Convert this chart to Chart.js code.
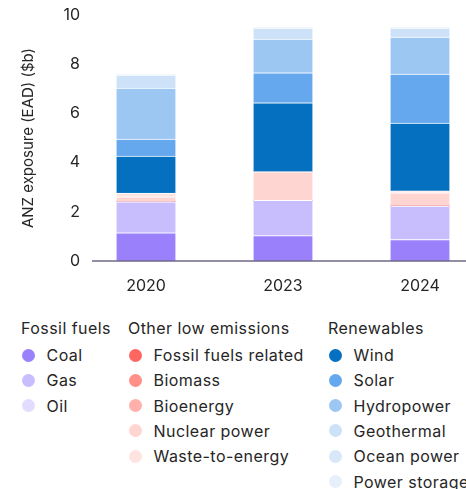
<!DOCTYPE html>
<html><head><meta charset="utf-8">
<script src="https://cdn.jsdelivr.net/npm/chart.js@4/dist/chart.umd.min.js"></script>
<style>
html,body{margin:0;padding:0;background:#fff;width:466px;height:489px;overflow:hidden;font-family:Inter,"Noto Sans",sans-serif;color:#262626}
#wrap{position:absolute;left:0;top:0;width:466px;height:300px}
.hdr{position:absolute;font-size:16px;line-height:18px;letter-spacing:0.45px;white-space:nowrap}
.item{position:absolute;font-size:16px;line-height:18px;letter-spacing:0.45px;white-space:nowrap}
.dot{position:absolute;width:13px;height:13px;border-radius:50%}
</style></head>
<body>
<div id="wrap"><canvas id="c" width="466" height="300"></canvas></div>
<div id="legend"></div>
<script>
const years = ['2020', '2023', '2024'];
const yTicks = [0, 2, 4, 6, 8, 10];
const axisTitle = 'ANZ exposure (EAD) ($b)';

// Fossil fuels
const coal = [1.15, 1.03, 0.87];
const gas = [1.26, 1.44, 1.36];
const oil = [0, 0, 0];
// Other low emissions
const fossilRelated = [0, 0, 0];
const biomass = [0, 0, 0];
const bioenergy = [0, 0, 0];
const nuclear = [0.20, 1.15, 0.54];
const wasteToEnergy = [0.15, 0, 0.08];
// Renewables
const wind = [1.51, 2.81, 2.76];
const solar = [0.69, 1.22, 1.99];
const hydro = [2.07, 1.37, 1.50];
const geothermal = [0.53, 0.45, 0.37];
const ocean = [0, 0, 0];
const storage = [0, 0, 0];

const groups = [
  {name: 'Fossil fuels', series: [
    ['Coal', coal, '#9b80fc'], ['Gas', gas, '#c8befe'], ['Oil', oil, '#e2dcfe']]},
  {name: 'Other low emissions', series: [
    ['Fossil fuels related', fossilRelated, '#fe6661'], ['Biomass', biomass, '#ff8f88'],
    ['Bioenergy', bioenergy, '#ffb0aa'], ['Nuclear power', nuclear, '#ffd5d2'],
    ['Waste-to-energy', wasteToEnergy, '#ffe3e1']]},
  {name: 'Renewables', series: [
    ['Wind', wind, '#0570bf'], ['Solar', solar, '#66a8ee'], ['Hydropower', hydro, '#9cc7f3'],
    ['Geothermal', geothermal, '#cde2f8'], ['Ocean power', ocean, '#d9e8f9'],
    ['Power storage', storage, '#e6f0fb']]}
];

const datasets = [];
groups.forEach(g => g.series.forEach(([label, data, color]) => {
  datasets.push({label, data, backgroundColor: color, borderColor: '#ffffff',
    borderWidth: {top: 1, left: 0, right: 0, bottom: 0}, borderSkipped: false,
    barThickness: 59, clip: false});
}));

const baseLine = {
  id: 'baseLine',
  afterDatasetsDraw(chart) {
    const y = chart.scales.y.getPixelForValue(0);
    const ctx = chart.ctx;
    ctx.save();
    ctx.strokeStyle = '#6f6889';
    ctx.lineWidth = 1.6;
    ctx.beginPath();
    ctx.moveTo(92, y);
    ctx.lineTo(chart.width, y);
    ctx.stroke();
    ctx.restore();
  }
};

new Chart(document.getElementById('c'), {
  type: 'bar',
  data: {labels: years, datasets},
  plugins: [baseLine],
  options: {
    responsive: false, animation: false,
    layout: {padding: {left: 0, right: 46, top: 15, bottom: 0}},
    plugins: {legend: {display: false}, tooltip: {enabled: false}},
    scales: {
      x: {stacked: true, offset: false,
        grid: {display: false, drawTicks: false}, border: {display: false},
        ticks: {padding: 16, color: '#262626', font: {family: 'Inter', size: 16}},
        afterFit(s) { s.height = 39; s.paddingLeft = 0; s.paddingRight = 0; }},
      y: {stacked: true, min: 0, max: 10,
        afterBuildTicks(s) { s.ticks = yTicks.map(v => ({value: v})); },
        grid: {display: false, drawTicks: false}, border: {display: false},
        ticks: {padding: 66, color: '#262626', font: {family: 'Inter', size: 16}},
        title: {display: true, text: axisTitle, color: '#262626',
          font: {family: 'Inter', size: 15}, padding: {top: 19, bottom: 0}},
        afterFit(s) { s.width = 146; s.paddingTop = 0; s.paddingBottom = 0; }}
    }
  }
});

// HTML legend built from the same series
const legend = document.getElementById('legend');
const colX = [21, 128, 328];
const hdrY = 319, rowY0 = 346, rowStep = 25.3;
groups.forEach((g, gi) => {
  const h = document.createElement('div');
  h.className = 'hdr'; h.textContent = g.name;
  h.style.left = colX[gi] + 'px'; h.style.top = hdrY + 'px';
  legend.appendChild(h);
  g.series.forEach(([label, , color], i) => {
    const cy = rowY0 + 9 + i * rowStep;
    const d = document.createElement('div');
    d.className = 'dot'; d.style.background = color;
    d.style.left = (colX[gi] + 0.5) + 'px'; d.style.top = (cy - 6.5) + 'px';
    legend.appendChild(d);
    const t = document.createElement('div');
    t.className = 'item'; t.textContent = label;
    t.style.left = (colX[gi] + 25.5) + 'px'; t.style.top = (cy - 9) + 'px';
    legend.appendChild(t);
  });
});
</script>
</body></html>
